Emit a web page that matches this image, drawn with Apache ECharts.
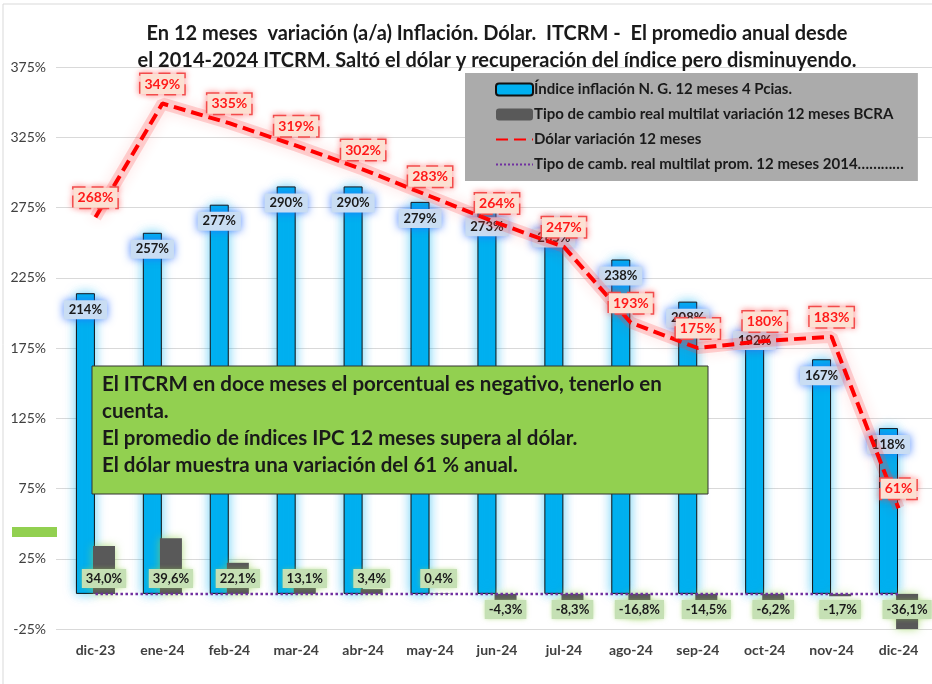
<!DOCTYPE html>
<html>
<head>
<meta charset="utf-8">
<script src="https://cdn.jsdelivr.net/npm/echarts@6/dist/echarts.min.js"></script>
<style>
  html, body { margin: 0; padding: 0; background: #fff; }
  #chart { width: 932px; height: 684px; }
</style>
</head>
<body>
<div id="chart"></div>
<script>
// datos
var meses = ['dic-23','ene-24','feb-24','mar-24','abr-24','may-24','jun-24','jul-24','ago-24','sep-24','oct-24','nov-24','dic-24'];
var inflacion = [214, 257, 277, 290, 290, 279, 273, 265, 238, 208, 192, 167, 118];
var tcrm = [34.0, 39.6, 22.1, 13.1, 3.4, 0.4, -4.3, -8.3, -16.8, -14.5, -6.2, -1.7, -36.1];
var dolar = [268, 349, 335, 319, 302, 283, 264, 247, 193, 175, 180, 183, 61];
var tcrmProm = [0, 0, 0, 0, 0, 0, 0, 0, 0, 0, 0, 0, 0];

var nombres = [
  'Índice inflación N. G. 12 meses 4 Pcias.',
  'Tipo de cambio real multilat variación 12 meses BCRA',
  'Dólar variación 12 meses',
  'Tipo de camb. real multilat prom. 12 meses 2014…………'
];

var FONT = 'Lato, "Open Sans", sans-serif';

// barras grises: etiqueta pegada a la linea de cero
var tcrmData = tcrm.map(function (v) {
  return { value: v, label: { position: v >= 0 ? 'insideBottom' : 'insideTop' } };
});

var chart = echarts.init(document.getElementById('chart'));
chart.setOption({
  animation: false,
  textStyle: { fontFamily: FONT },
  title: {
    text: 'En 12 meses  variación (a/a) Inflación. Dólar.  ITCRM -  El promedio anual desde\nel 2014-2024 ITCRM. Saltó el dólar y recuperación del índice pero disminuyendo.',
    left: 492,
    textAlign: 'center',
    top: 15,
    textStyle: { fontFamily: FONT, fontSize: 20, fontWeight: 'bold', color: '#1a1a1a', lineHeight: 27 }
  },
  legend: {
    orient: 'vertical',
    left: 465,
    top: 73,
    padding: [9, 14, 9, 30],
    itemGap: 10,
    itemWidth: 37,
    itemHeight: 12,
    backgroundColor: '#ABABAB',
    textStyle: { fontFamily: FONT, fontSize: 15, fontWeight: 'bold', color: '#1a1a1a', padding: [0, 0, 0, -4] },
    data: nombres
  },
  grid: { left: 62, top: 67, width: 880, height: 562 },
  xAxis: {
    type: 'category',
    data: meses,
    axisLine: { show: false },
    axisTick: { show: false },
    axisLabel: { margin: 14, fontSize: 14, fontWeight: 'bold', color: '#404040', fontFamily: FONT }
  },
  yAxis: {
    type: 'value',
    min: -25,
    max: 375,
    interval: 50,
    axisLine: { show: false },
    axisTick: { show: true, length: 6, lineStyle: { color: '#D9D9D9' } },
    axisLabel: { margin: 16, fontSize: 14, color: '#404040', fontFamily: FONT, formatter: '{value}%' },
    splitLine: { lineStyle: { color: '#D9D9D9', width: 1 } }
  },
  series: [
    {
      name: nombres[0],
      type: 'bar',
      data: inflacion,
      barWidth: 19,
      barGap: '-10%',
      itemStyle: {
        color: '#00B0F0',
        borderColor: '#111',
        borderWidth: 1,
        shadowColor: 'rgba(0,176,240,0.6)',
        shadowBlur: 12
      },
      label: {
        show: true,
        position: 'insideTop',
        distance: 7,
        formatter: function (p) { return p.value + '%'; },
        fontFamily: FONT,
        fontSize: 13,
        fontWeight: 'bold',
        color: '#1a1a1a',
        backgroundColor: '#C9DDF3',
        padding: [3, 5],
        shadowColor: 'rgba(40,110,255,0.8)',
        shadowBlur: 8
      },
      z: 2
    },
    {
      name: nombres[1],
      type: 'bar',
      data: tcrmData,
      barWidth: 22,
      itemStyle: {
        color: '#595959',
        shadowColor: 'rgba(146,208,80,0.7)',
        shadowBlur: 8
      },
      label: {
        show: true,
        distance: 6,
        formatter: function (p) { return p.value.toFixed(1).replace('.', ',') + '%'; },
        fontFamily: FONT,
        fontSize: 13,
        fontWeight: 'bold',
        color: '#1a1a1a',
        backgroundColor: '#C5E0B4',
        padding: [3, 4],
        shadowColor: 'rgba(146,208,80,0.6)',
        shadowBlur: 5
      },
      z: 3
    },
    {
      // halo rojo debajo de la linea del dolar
      name: 'halo',
      type: 'line',
      data: dolar,
      symbol: 'none',
      silent: true,
      lineStyle: { color: 'rgba(255,70,70,0.22)', width: 12, shadowColor: 'rgba(255,40,40,0.55)', shadowBlur: 14 },
      z: 4
    },
    {
      name: nombres[2],
      type: 'line',
      data: dolar,
      symbol: 'circle',
      symbolSize: 1,
      showSymbol: true,
      lineStyle: {
        color: '#FF0000',
        width: 4,
        type: [12, 6]
      },
      itemStyle: { color: 'rgba(0,0,0,0)' },
      label: {
        show: true,
        position: 'top',
        distance: 9,
        formatter: function (p) { return p.value + '%'; },
        fontFamily: FONT,
        fontSize: 14,
        fontWeight: 'bold',
        color: '#FF1A1A',
        backgroundColor: '#FCE0D2',
        borderColor: '#F05050',
        borderWidth: 1.5,
        borderType: 'dashed',
        padding: [3, 4],
        shadowColor: 'rgba(255,60,60,0.5)',
        shadowBlur: 6
      },
      z: 6
    },
    {
      name: nombres[3],
      type: 'line',
      data: tcrmProm,
      symbol: 'circle',
      symbolSize: 1,
      lineStyle: { color: '#7030A0', width: 2.5, type: 'dotted' },
      itemStyle: { color: 'rgba(0,0,0,0)' },
      z: 5
    }
  ],
  graphic: [
    {
      type: 'rect',
      shape: { x: 3, y: 4, width: 940, height: 700 },
      style: { fill: 'none', stroke: '#D9D9D9', lineWidth: 1 },
      silent: true
    },
    {
      type: 'rect',
      shape: { x: 12, y: 527, width: 45, height: 10 },
      style: { fill: '#92D050' },
      silent: true
    },
    {
      type: 'rect',
      z: 100,
      shape: { x: 92, y: 366, width: 616, height: 128 },
      style: { fill: '#92D050', stroke: '#333', lineWidth: 1 }
    },
    {
      type: 'text',
      z: 101,
      x: 102,
      y: 371,
      style: {
        text: 'El ITCRM en doce meses el porcentual es negativo, tenerlo en\ncuenta.\nEl promedio de índices IPC 12 meses supera al dólar.\nEl dólar muestra una variación del 61 % anual.',
        font: 'bold 20.5px ' + FONT,
        fill: '#1a1a1a',
        lineHeight: 27
      }
    }
  ]
});
</script>
</body>
</html>
